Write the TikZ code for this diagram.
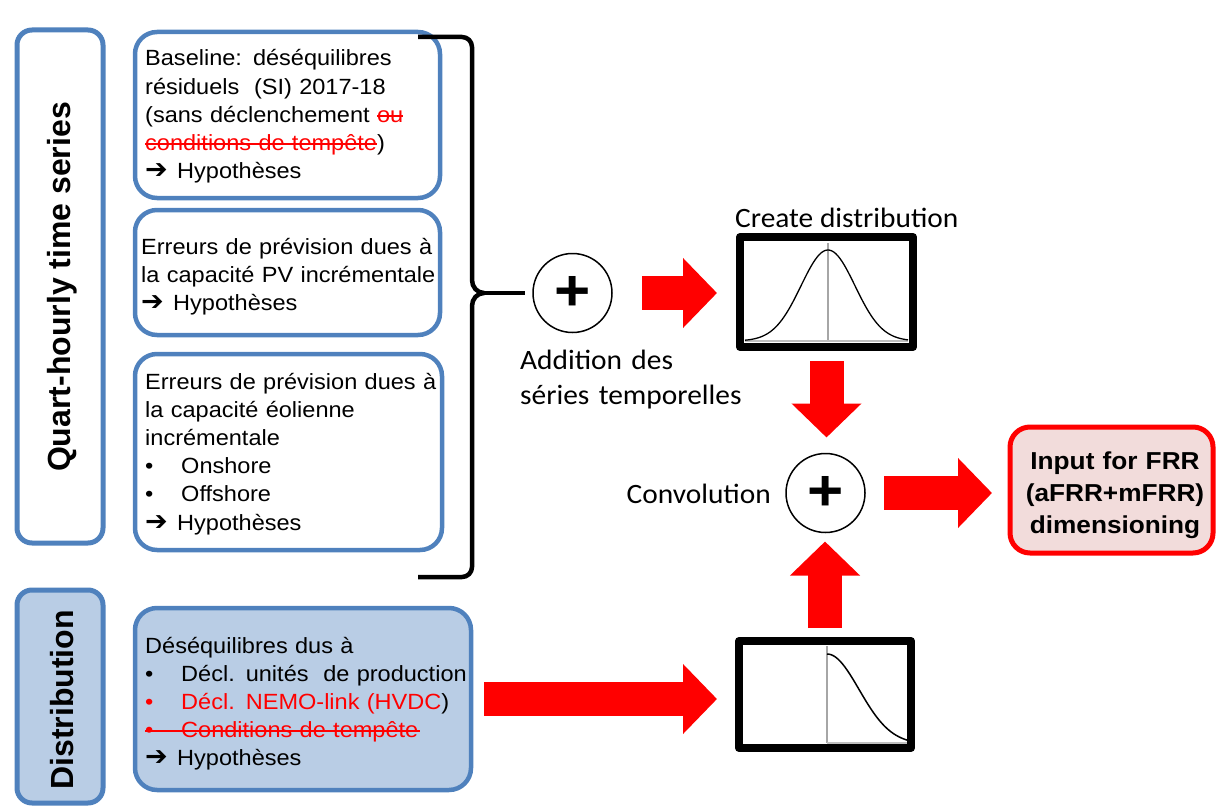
\documentclass[tikz,border=0pt]{standalone}
\usepackage{fontspec}
\setmainfont{Liberation Sans}[FakeStretch=1.07]
\newfontfamily\labfont{Liberation Sans}
\newfontfamily\calfont{Carlito}[FakeStretch=1.05]
\newfontfamily\dvfont{DejaVu Sans}
\usetikzlibrary{arrows.meta}
\definecolor{boxblue}{HTML}{4F81BD}
\definecolor{fillblue}{HTML}{B9CDE5}
\definecolor{fillpink}{HTML}{F2DCDB}
\newcommand\harr{\makebox[32pt][l]{{\dvfont\bfseries\fontsize{27}{28}\selectfont ➔}}}
\newcommand\bul{\makebox[36pt][l]{•}}
\newcommand\strk[1]{\setbox0\hbox{#1}\rlap{\rule[0.5ex]{\wd0}{1.5pt}}\box0}
\begin{document}
\begin{tikzpicture}[x=1pt,y=-1pt,line join=round,
  bluebox/.style={draw=boxblue, line width=4.5pt, rounded corners=22pt, inner sep=0pt, outer sep=0pt},
  sidebox/.style={draw=boxblue, line width=5pt, rounded corners=15pt, inner sep=0pt, outer sep=0pt},
  txt/.style={anchor=base west, inner sep=0pt, text width=330pt, align=left, font=\fontsize{22}{28.2}\selectfont},
  caltxt/.style={inner sep=0pt, font=\calfont\fontsize{28}{35}\selectfont},
  distbox/.style={draw=black, line width=8pt, fill=white, inner sep=0pt, outer sep=0pt},
  sumnode/.style={circle, draw=black, line width=1.5pt, minimum size=79pt, inner sep=0pt, outer sep=0pt, font=\bfseries\fontsize{58}{60}\selectfont},
  bigarrow/.style={draw=red, line width=34pt, -{Triangle[width=68pt,length=34pt]}}
]
\useasboundingbox (0,0) rectangle (1217,808);

% side labels
\node[sidebox, minimum width=86pt, minimum height=513pt] (lq) at (60,286.5) {};
\node[rotate=90, inner sep=0pt, font=\labfont\bfseries\fontsize{32}{38}\selectfont] (lqt) at (62,287) {Quart-hourly time series};
\node[sidebox, fill=fillblue, minimum width=86pt, minimum height=213pt] (ld) at (60,696.5) {};
\node[rotate=90, inner sep=0pt, font=\labfont\bfseries\fontsize{32}{38}\selectfont] (ldt) at (62,700) {Distribution};

% content boxes
\node[bluebox, minimum width=305pt, minimum height=166pt] (A) at (287.5,115) {};
\node[txt] (At) at (145,66) {Baseline: déséquilibres\\résiduels~ (SI) 2017-18\\(sans déclenchement \textcolor{red}{\strk{ou}}\\\textcolor{red}{\strk{conditions de tempête}})\\\harr Hypothèses};

\node[bluebox, minimum width=305pt, minimum height=125pt] (B) at (287.5,272.5) {};
\node[txt] (Bt) at (141,254) {Erreurs de prévision dues à\\la capacité PV incrémentale\\\harr Hypothèses};

\node[bluebox, minimum width=307pt, minimum height=196pt] (C) at (288.5,452) {};
\node[txt] (Ct) at (145,389) {Erreurs de prévision dues à\\la capacité éolienne\\incrémentale\\\bul Onshore\\\bul Offshore\\\harr Hypothèses};

\node[bluebox, fill=fillblue, minimum width=336pt, minimum height=182pt] (D) at (303,699) {};
\node[txt] (Dt) at (145,653) {Déséquilibres dus à\\\bul Décl. unités~ de production\\\textcolor{red}{\bul Décl. NEMO-link (HVDC})\\\textcolor{red}{\rlap{\rule[0.5ex]{275pt}{1.5pt}}\bul Conditions de tempête}\\\harr Hypothèses};

% brace
\draw[line width=4.5pt] (418,37) -- (462,37) to[out=0,in=90] (472,47) -- (472,280)
  to[out=-90,in=180] (484,293) to[out=180,in=90] (472,306) -- (472,567)
  to[out=-90,in=0] (462,577) -- (418,577);
\coordinate (bt) at (484,293);
\coordinate (btip) at (525,293);
\draw[line width=4.5pt] (bt) -- (btip);

% sums
\node[sumnode] (c1) at (572.5,293) {+};
\node[caltxt, anchor=base west, text width=240pt, align=left] (addt) at (520,369) {Addition des\\séries temporelles};
\node[sumnode] (c2) at (825.5,493) {+};
\node[caltxt, anchor=base east] (convt) at (771,503) {Convolution};

% distributions
\node[caltxt, anchor=base west] (cdt) at (735,227) {Create distribution};
\node[distbox, minimum width=173pt, minimum height=110pt] (d1) at (826.5,292) {};
\draw[gray!70, line width=1.3pt] (828,243) -- (828,341);
\draw[gray!50, line width=1.3pt] (745,341) -- (908,341);
\draw[line width=1.3pt] plot[domain=745:908, samples=80, smooth] (\x, {341-91*exp(-((\x-828)/27)^2/2)});

\node[distbox, minimum width=172pt, minimum height=107pt] (d2) at (825,694.5) {};
\draw[gray!70, line width=1.3pt] (827,646) -- (827,743);
\draw[gray!50, line width=1.3pt] (827,743) -- (907,743);
\draw[line width=1.5pt] plot[domain=827:907, samples=60, smooth] (\x, {744-90*exp(-((\x-827)/32)^2/2)});

% output
\node[draw=red, line width=5pt, fill=fillpink, rounded corners=20pt, minimum width=203pt, minimum height=126pt, inner sep=0pt, outer sep=0pt] (out) at (1111.5,490) {};
\node[anchor=base, inner sep=0pt, text width=210pt, align=center, font=\bfseries\fontsize{24.5}{32}\selectfont] (outt) at (1115,469) {Input for FRR\\(aFRR+mFRR)\\dimensioning};

% red arrows
\draw[bigarrow, shorten <=30pt, shorten >=23pt] (c1.east) -- (c1.east -| d1.west);
\draw[bigarrow, shorten <=14pt, shorten >=16pt] (d1.south) -- (d1.south |- c2.north);
\draw[bigarrow, shorten <=19pt, shorten >=18pt] (c2.east) -- (c2.east -| out.west);
\draw[bigarrow, shorten <=13pt, shorten >=9pt] (d2.north) -- (d2.north |- c2.south);
\draw[bigarrow, shorten <=13pt, shorten >=22pt] (D.east) -- (D.east -| d2.west);
\end{tikzpicture}
\end{document}
